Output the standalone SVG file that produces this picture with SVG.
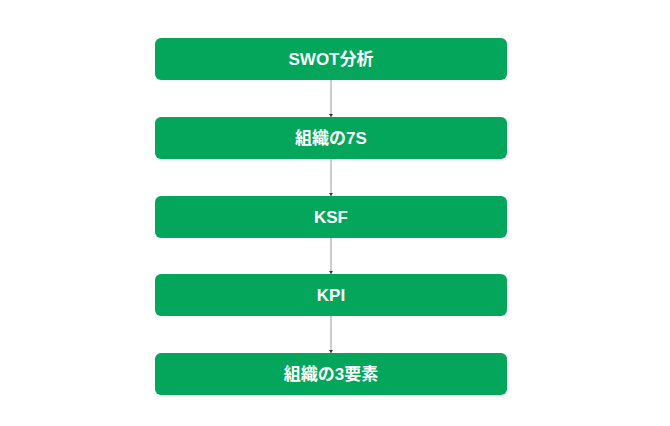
<svg xmlns="http://www.w3.org/2000/svg" width="670" height="426" viewBox="0 0 670 426">
<style>
.box{fill:#03a65b;}
.lbl{font-family:"Liberation Sans","Noto Sans CJK JP",sans-serif;font-weight:bold;font-size:17px;fill:#ffffff;text-anchor:middle;dominant-baseline:central;}
.edge{stroke:#999999;stroke-width:1;fill:none;marker-end:url(#arr);}
</style>
<defs>
<marker id="arr" markerWidth="4" markerHeight="4" refX="3" refY="2" orient="auto" markerUnits="userSpaceOnUse">
<path d="M0,0 L3,2 L0,4 z" fill="#333333"/>
</marker>
</defs>
<rect width="670" height="426" fill="#ffffff"/>
<g id="connectors">
<line class="edge" x1="331" y1="80" x2="331" y2="117"/>
<line class="edge" x1="331" y1="159" x2="331" y2="196"/>
<line class="edge" x1="331" y1="238" x2="331" y2="274"/>
<line class="edge" x1="331" y1="316" x2="331" y2="353"/>
</g>
<g id="n1"><rect class="box" x="155" y="38" width="352" height="42" rx="6"/><text class="lbl" x="331" y="59">SWOT分析</text></g>
<g id="n2"><rect class="box" x="155" y="117" width="352" height="42" rx="6"/><text class="lbl" x="331" y="138">組織の7S</text></g>
<g id="n3"><rect class="box" x="155" y="196" width="352" height="42" rx="6"/><text class="lbl" x="331" y="217">KSF</text></g>
<g id="n4"><rect class="box" x="155" y="274" width="352" height="42" rx="6"/><text class="lbl" x="331" y="295">KPI</text></g>
<g id="n5"><rect class="box" x="155" y="353" width="352" height="42" rx="6"/><text class="lbl" x="331" y="374">組織の3要素</text></g>
</svg>
